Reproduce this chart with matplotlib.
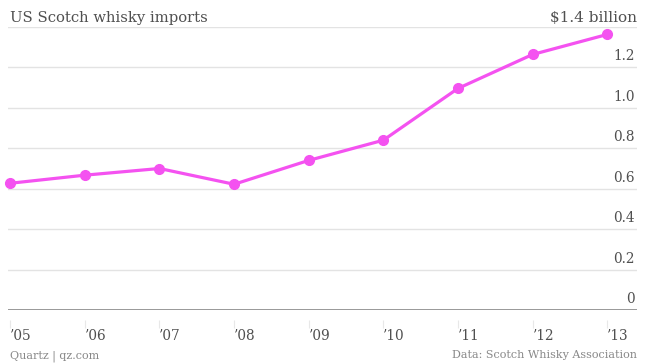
import matplotlib
matplotlib.use("Agg")
import matplotlib.pyplot as plt

# US Scotch whisky imports, $ billion
years = ["\u201905", "\u201906", "\u201907", "\u201908", "\u201909",
         "\u201910", "\u201911", "\u201912", "\u201913"]
imports = [0.627, 0.667, 0.70, 0.622, 0.74, 0.84, 1.096, 1.264, 1.363]
yticks = [0, 0.2, 0.4, 0.6, 0.8, 1.0, 1.2]
ytick_labels = ["0", "0.2", "0.4", "0.6", "0.8", "1.0", "1.2"]

PINK = "#f452f0"
TXT = "#505050"
FONT = "DejaVu Serif"

fig = plt.figure(figsize=(6.45, 3.63), dpi=100)
ax = fig.add_axes([8 / 645, 1 - 310 / 363, 629 / 645, 283 / 363])

x = list(range(len(years)))
ax.plot(x, imports, color=PINK, linewidth=2.3, marker="o", markersize=7,
        zorder=3, clip_on=False)

ax.set_xlim(-0.03, 8.4)
ax.set_ylim(0, 1.4)

# light gridlines, incl. the top one under the title
for v in yticks[1:] + [1.4]:
    ax.axhline(v, color="#e3e3e3", linewidth=1.0, zorder=1)
ax.axhline(0, color="#888888", linewidth=1.2, zorder=2)

# y labels sit just above each gridline, right-aligned
for v, lab in zip(yticks, ytick_labels):
    ax.text(8.37, v + 0.02, lab, ha="right", va="bottom", fontsize=9.8,
            color=TXT, family=FONT)

for s in ax.spines.values():
    s.set_visible(False)
# ticks hang below the baseline with a small gap
ax.spines["bottom"].set_position(("outward", 7))
ax.set_yticks([])
ax.set_xticks(x)
ax.set_xticklabels(years, fontsize=9.8, color=TXT, family=FONT, ha="left")
ax.tick_params(axis="x", length=6, width=0.8, color="#e8e8e8", pad=0.5)

fig.text(10 / 645, 1 - 22 / 363, "US Scotch whisky imports", fontsize=10.6,
         color=TXT, family=FONT, ha="left", va="baseline")
fig.text(637 / 645, 1 - 22 / 363, "$1.4 billion", fontsize=11,
         color=TXT, family=FONT, ha="right", va="baseline")
fig.text(10 / 645, 1 - 358 / 363, "Quartz | qz.com", fontsize=8,
         color="#888888", family=FONT, ha="left", va="baseline")
fig.text(637 / 645, 1 - 358 / 363, "Data: Scotch Whisky Association",
         fontsize=8, color="#888888", family=FONT, ha="right",
         va="baseline")

fig.savefig("out.png", dpi=100)
